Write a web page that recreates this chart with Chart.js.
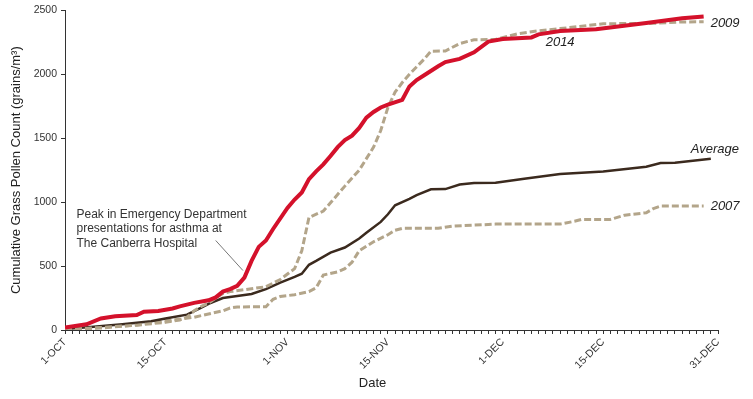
<!DOCTYPE html>
<html>
<head>
<meta charset="utf-8">
<script src="https://cdn.jsdelivr.net/npm/chart.js@4.4.0/dist/chart.umd.min.js"></script>
<style>
html, body { margin: 0; padding: 0; background: #fff; }
#wrap { width: 753px; height: 399px; }
</style>
</head>
<body>
<div id="wrap"><canvas id="pollenChart"></canvas></div>
<script>
// day index from 1-OCT (0) to 31-DEC (91)
const tickDays = [0, 14, 31, 45, 61, 75, 91];
const tickNames = ['1-OCT', '15-OCT', '1-NOV', '15-NOV', '1-DEC', '15-DEC', '31-DEC'];

const days2014 = [0, 3, 5, 7, 10, 11, 13, 15, 16, 18, 20, 21, 22, 23, 24, 25, 26, 27, 28, 29, 31, 32, 33, 34, 35, 36, 37, 38, 39, 40, 41, 42, 43, 44, 45, 47, 48, 49, 50, 52, 53, 55, 57, 59, 61, 65, 66, 69, 74, 81, 86, 89];
const pollen2014 = [20, 45, 90, 108, 117, 143, 148, 168, 185, 212, 232, 255, 300, 320, 345, 410, 540, 650, 700, 790, 955, 1020, 1075, 1180, 1240, 1295, 1360, 1430, 1485, 1520, 1580, 1660, 1705, 1740, 1763, 1800, 1905, 1955, 1990, 2062, 2095, 2120, 2172, 2255, 2275, 2288, 2312, 2338, 2352, 2400, 2437, 2452];

const days2009 = [0, 5, 10, 14, 16, 17, 18, 19, 20, 21, 22, 23, 25, 28, 30, 32, 33, 34, 36, 37, 39, 41, 42, 43, 44, 45, 46, 47, 48, 50, 51, 53, 55, 57, 60, 63, 66, 69, 75, 82, 86, 89];
const pollen2009 = [3, 20, 38, 60, 78, 100, 150, 185, 210, 250, 285, 300, 315, 338, 395, 480, 620, 880, 930, 995, 1125, 1250, 1340, 1430, 1560, 1740, 1860, 1935, 2000, 2115, 2180, 2182, 2240, 2270, 2272, 2315, 2340, 2357, 2395, 2398, 2409, 2410];

const daysAverage = [0, 4, 8, 12, 14, 17, 19, 20, 22, 24, 26, 28, 30, 32, 33, 34, 35, 37, 39, 41, 42, 44, 45, 46, 48, 49, 51, 53, 55, 57, 60, 64, 69, 75, 81, 83, 85, 90];
const pollenAverage = [8, 26, 45, 68, 90, 120, 175, 205, 250, 266, 282, 320, 370, 415, 440, 510, 540, 605, 645, 715, 760, 845, 905, 975, 1025, 1055, 1100, 1102, 1138, 1150, 1152, 1183, 1219, 1240, 1276, 1305, 1308, 1340];

const days2007 = [0, 5, 10, 14, 16, 18, 20, 22, 23, 24, 28, 29, 30, 32, 34, 35, 36, 38, 39, 40, 41, 43, 45, 46, 47, 52, 54, 60, 69, 71, 72, 76, 78, 81, 82, 83, 89];
const pollen2007 = [2, 15, 40, 70, 85, 100, 125, 150, 172, 180, 182, 240, 262, 276, 300, 330, 430, 455, 480, 530, 620, 690, 745, 780, 795, 795, 812, 828, 828, 850, 865, 865, 898, 917, 950, 969, 969];

function points(days, values) {
    return days.map((d, i) => ({ x: d, y: values[i] }));
}

const fontFamily = '"Liberation Sans", Arial, Helvetica, sans-serif';

const notesPlugin = {
    id: 'pollenNotes',
    afterDatasetsDraw(chart) {
        const ctx = chart.ctx;
        const xs = chart.scales.x;
        const ys = chart.scales.y;
        ctx.save();

        // series labels at the line ends
        ctx.font = 'italic 13px ' + fontFamily;
        ctx.fillStyle = '#222';
        ctx.textBaseline = 'middle';
        ctx.textAlign = 'left';
        ctx.fillText('2009', xs.getPixelForValue(days2009[days2009.length - 1]) + 7,
            ys.getPixelForValue(pollen2009[pollen2009.length - 1]) + 1.5);
        ctx.fillText('2007', xs.getPixelForValue(days2007[days2007.length - 1]) + 7,
            ys.getPixelForValue(pollen2007[pollen2007.length - 1]));
        ctx.textAlign = 'center';
        ctx.fillText('Average', xs.getPixelForValue(daysAverage[daysAverage.length - 1]) + 4,
            ys.getPixelForValue(pollenAverage[pollenAverage.length - 1]) - 9);
        ctx.fillText('2014', xs.getPixelForValue(69), ys.getPixelForValue(2338) + 11);

        // callout for the asthma peak
        ctx.strokeStyle = '#777';
        ctx.lineWidth = 1;
        ctx.beginPath();
        ctx.moveTo(xs.getPixelForValue(21), ys.getPixelForValue(700));
        ctx.lineTo(xs.getPixelForValue(24.8), ys.getPixelForValue(465));
        ctx.stroke();

        ctx.font = '12px ' + fontFamily;
        ctx.fillStyle = '#333';
        ctx.textAlign = 'left';
        const noteX = xs.getPixelForValue(1.6);
        const noteY = ys.getPixelForValue(905);
        ['Peak in Emergency Department', 'presentations for asthma at', 'The Canberra Hospital']
            .forEach((line, i) => ctx.fillText(line, noteX, noteY + i * 14.6));

        // x axis title, centred on the page as in the original
        ctx.font = '13px ' + fontFamily;
        ctx.fillStyle = '#222';
        ctx.textAlign = 'center';
        ctx.fillText('Date', chart.width / 2 - 4, chart.height - 16);
        ctx.restore();
    }
};

var ctxPollen = document.getElementById('pollenChart').getContext('2d');
var pollenChart = new Chart(ctxPollen, {
    type: 'line',
    data: {
        datasets: [{
            label: '2014',
            data: points(days2014, pollen2014),
            borderColor: '#d4112b',
            borderWidth: 4,
            pointRadius: 0
        }, {
            label: '2009',
            data: points(days2009, pollen2009),
            borderColor: '#b3a58a',
            borderWidth: 3,
            borderDash: [7, 3],
            pointRadius: 0
        }, {
            label: 'Average',
            data: points(daysAverage, pollenAverage),
            borderColor: '#3b2a1e',
            borderWidth: 2.5,
            pointRadius: 0
        }, {
            label: '2007',
            data: points(days2007, pollen2007),
            borderColor: '#b3a58a',
            borderWidth: 3,
            borderDash: [7, 3],
            pointRadius: 0
        }]
    },
    options: {
        responsive: true,
        maintainAspectRatio: false,
        animation: false,
        layout: { padding: { top: 10, right: 35, left: 0, bottom: 0 } },
        plugins: {
            legend: { display: false },
            tooltip: { enabled: false }
        },
        scales: {
            x: {
                type: 'linear',
                min: 0,
                max: 91,
                afterFit: function(scale) { scale.height = 69; },
                border: { display: true, color: '#333', width: 1 },
                grid: { display: true, drawOnChartArea: false, drawTicks: true, tickLength: 4, color: '#333' },
                ticks: {
                    stepSize: 1,
                    maxTicksLimit: 100,
                    autoSkip: false,
                    minRotation: 45,
                    maxRotation: 45,
                    padding: 2,
                    color: '#333',
                    font: { family: fontFamily, size: 10.5 },
                    callback: function(value) {
                        const i = tickDays.indexOf(value);
                        return i >= 0 ? tickNames[i] : '';
                    }
                },
                title: { display: false }
            },
            y: {
                min: 0,
                max: 2500,
                afterFit: function(scale) { scale.width = 65; },
                border: { display: true, color: '#333', width: 1 },
                grid: { display: true, drawOnChartArea: false, drawTicks: true, tickLength: 4, color: '#333' },
                ticks: {
                    stepSize: 500,
                    padding: 4,
                    color: '#333',
                    font: { family: fontFamily, size: 10.5 },
                    callback: function(value) { return String(value); }
                },
                title: {
                    display: true,
                    text: 'Cumulative Grass Pollen Count (grains/m³)',
                    color: '#222',
                    font: { family: fontFamily, size: 13 },
                    padding: { top: 9, bottom: 0 }
                }
            }
        }
    },
    plugins: [notesPlugin]
});
</script>
</body>
</html>
